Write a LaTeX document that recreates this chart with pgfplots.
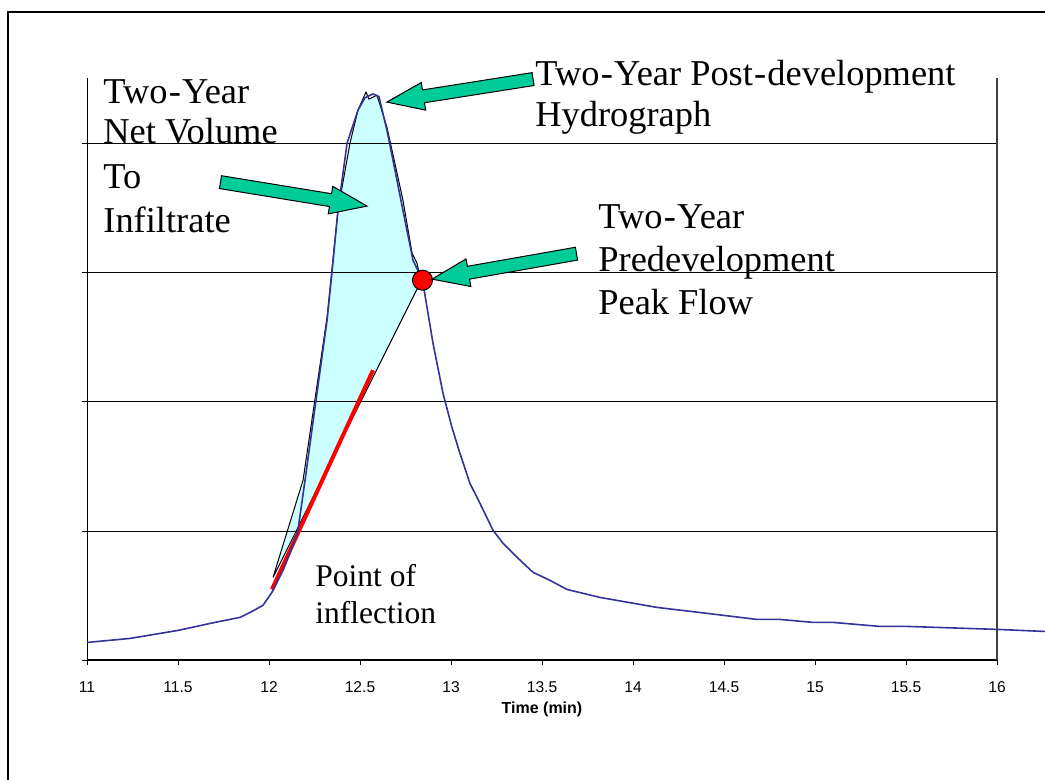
\documentclass[border=0pt]{standalone}
\usepackage{pgfplots}
\pgfplotsset{compat=1.18}
\usepackage{fontspec}
\setmainfont{Liberation Serif}
\newfontfamily\arial{Liberation Sans}
\usetikzlibrary{calc}
\definecolor{hydro}{RGB}{51,51,153}
\definecolor{volfill}{RGB}{204,255,255}
\definecolor{arrowgreen}{RGB}{0,204,153}
\newcommand{\hy}{\kern0.6pt-\kern0.6pt}

\newcommand{\blockarrow}[2]{%
  \coordinate (H) at ($(#2)!18.5pt!(#1)$);
  \filldraw[fill=arrowgreen, draw=black, line width=0.5pt, line join=miter]
    ($(#1)!3.25pt!90:(#2)$) -- ($(H)!3.25pt!90:(#2)$) -- ($(H)!7pt!90:(#2)$) -- (#2)
    -- ($(H)!7pt!-90:(#2)$) -- ($(H)!3.25pt!-90:(#2)$) -- ($(#1)!3.25pt!-90:(#2)$) -- cycle;}

\begin{document}
\begin{tikzpicture}
\begin{axis}[
  set layers,
  scale only axis, width=455pt, height=291pt,
  xmin=11, xmax=16, ymin=0, ymax=4.5,
  clip=false,
  axis x line*=bottom, axis y line*=left,
  x axis line style={-, line width=1pt},
  y axis line style={-, line width=0.5pt},
  xtick={11,11.5,12,12.5,13,13.5,14,14.5,15,15.5,16},
  ytick={0,1,2,3,4}, yticklabels={},
  tick align=outside, major tick length=2.5pt,
  tick style={black, line width=0.5pt},
  ymajorgrids, grid style={black, line width=0.5pt},
  xticklabel style={font=\arial\fontsize{7.8}{9}\selectfont, anchor=base, yshift=-13.5pt},
  /pgf/number format/assume math mode=true,
  xlabel={Time (min)},
  xlabel style={font=\arial\bfseries\fontsize{8}{9.6}\selectfont, at={(axis description cs:0.5,0)}, anchor=base, yshift=-26.75pt},
]
% net volume polygon
\addplot[fill=volfill, draw=black, line width=0.5pt, line join=round, on layer=axis background] coordinates {
(12.022,0.642) (12.187,1.393) (12.319,2.654) (12.379,3.482) (12.445,4.000)
(12.489,4.255) (12.533,4.395) (12.549,4.340) (12.593,4.371) (12.648,4.124)
(12.736,3.559) (12.786,3.149) (12.813,3.072) (12.835,2.932) (12.022,0.642)};
% red tangent
\addplot[red, line width=2pt] coordinates {(12.0165,0.5493) (12.5714,2.2437)};
% hydrograph
\addplot[hydro, line width=0.8pt, line join=round] coordinates {
(11,0.139) (11.236,0.17) (11.5,0.232) (11.703,0.294) (11.841,0.333)
(11.896,0.371) (11.967,0.426) (12.016,0.526) (12.077,0.696) (12.115,0.828)
(12.159,1.006) (12.198,1.393) (12.258,2.01) (12.319,2.63) (12.346,3.0)
(12.379,3.48) (12.429,4.0) (12.489,4.255) (12.527,4.35) (12.571,4.38)
(12.604,4.36) (12.648,4.10) (12.681,3.87) (12.736,3.48) (12.791,3.095)
(12.8434,2.94) (12.901,2.453) (12.956,2.066) (13.005,1.803) (13.049,1.602)
(13.104,1.369) (13.159,1.215) (13.231,1.006) (13.286,0.905) (13.363,0.797)
(13.451,0.681) (13.544,0.619) (13.637,0.549) (13.819,0.487) (14.132,0.410)
(14.407,0.364) (14.681,0.317) (14.808,0.317) (14.989,0.294) (15.099,0.294)
(15.357,0.263) (15.505,0.263) (16.0,0.240) (16.264,0.224)};
% predevelopment peak point
\addplot[only marks, mark=*, mark size=5pt, mark options={fill=red, draw=black, line width=0.5pt}] coordinates {(12.8434,2.94)};

\draw[line width=0.75pt, black!75] (rel axis cs:1,0) -- (rel axis cs:1,1);
\draw[line width=0.8pt] (axis cs:10.566,-2) -- (axis cs:10.566,5.0135) -- (axis cs:17,5.0135);

\node[anchor=base west, inner sep=0, font=\fontsize{18.2}{21}\selectfont] at (axis cs:11.088,4.3095) {Two\hy Year};
\node[anchor=base west, inner sep=0, font=\fontsize{18.2}{21}\selectfont] at (axis cs:11.088,4.0) {Net Volume};
\node[anchor=base west, inner sep=0, font=\fontsize{18.2}{21}\selectfont] at (axis cs:11.088,3.6518) {To};
\node[anchor=base west, inner sep=0, font=\fontsize{18.2}{21}\selectfont] at (axis cs:11.088,3.3114) {Infiltrate};
\node[anchor=base west, inner sep=0, font=\fontsize{18.2}{21}\selectfont] at (axis cs:13.4615,4.4487) {Two\hy Year Post\hy development};
\node[anchor=base west, inner sep=0, font=\fontsize{18.2}{21}\selectfont] at (axis cs:13.4615,4.1315) {Hydrograph};
\node[anchor=base west, inner sep=0, font=\fontsize{18.2}{21}\selectfont] at (axis cs:13.8077,3.3385) {Two\hy Year};
\node[anchor=base west, inner sep=0, font=\fontsize{18.2}{21}\selectfont] at (axis cs:13.8077,3.0097) {Predevelopment};
\node[anchor=base west, inner sep=0, font=\fontsize{18.2}{21}\selectfont] at (axis cs:13.8077,2.677) {Peak Flow};
\node[anchor=base west, inner sep=0, font=\fontsize{15.75}{19}\selectfont] at (axis cs:12.2527,0.5725) {Point of};
\node[anchor=base west, inner sep=0, font=\fontsize{15.75}{19}\selectfont] at (axis cs:12.2527,0.2863) {inflection};

\coordinate (T1) at (axis cs:13.451,4.495);
\coordinate (P1) at (axis cs:12.648,4.317);
\coordinate (T2) at (axis cs:11.7335,3.698);
\coordinate (P2) at (axis cs:12.5385,3.513);
\coordinate (T3) at (axis cs:13.6896,3.145);
\coordinate (P3) at (axis cs:12.8956,2.948);
\coordinate (BL) at (axis cs:10.52198,-0.92070);
\coordinate (TR) at (axis cs:16.26374,5.10638);
\end{axis}
\blockarrow{T1}{P1}
\blockarrow{T2}{P2}
\blockarrow{T3}{P3}
\pgfresetboundingbox
\path[use as bounding box] (BL) rectangle (TR);
\end{tikzpicture}
\end{document}
